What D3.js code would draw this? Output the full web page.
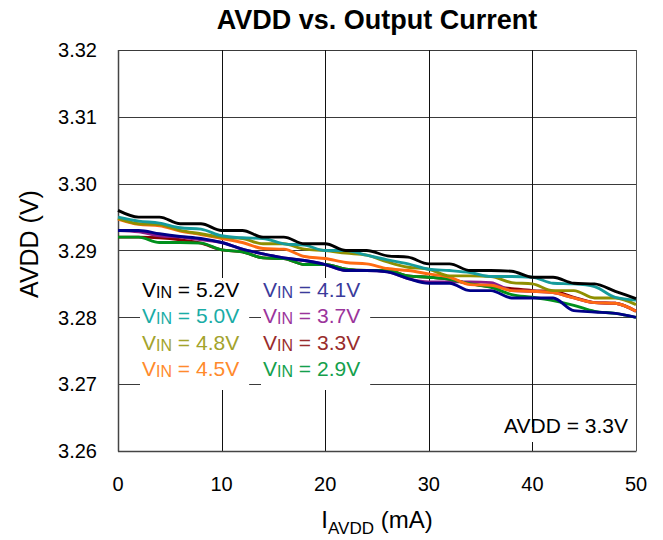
<!DOCTYPE html>
<html>
<head>
<meta charset="utf-8">
<script src="https://cdn.jsdelivr.net/npm/d3@7"></script>
<style>
  body { margin: 0; background: #fff; }
  svg { display: block; }
  text { font-family: "Liberation Sans", Arial, Helvetica, sans-serif; }
</style>
</head>
<body>
<svg id="chart" width="663" height="540"></svg>
<script>
// output current, mA
const current = [0, 2, 4, 6, 8, 10, 12, 14, 16, 18, 20, 22, 24, 26, 28, 30, 32, 34, 36, 38, 40, 42, 44, 46, 48, 50];

// AVDD (V) for each input voltage
const vin52 = [3.2960, 3.2950, 3.2950, 3.2940, 3.2940, 3.2930, 3.2930, 3.2920, 3.2920, 3.2910, 3.2910, 3.2900, 3.2900, 3.2892, 3.2890, 3.2880, 3.2880, 3.2870, 3.2870, 3.2869, 3.2860, 3.2860, 3.2851, 3.2850, 3.2839, 3.2828];
const vin50 = [3.2950, 3.2944, 3.2941, 3.2934, 3.2932, 3.2922, 3.2919, 3.2918, 3.2910, 3.2908, 3.2900, 3.2900, 3.2893, 3.2886, 3.2880, 3.2872, 3.2870, 3.2867, 3.2861, 3.2861, 3.2860, 3.2851, 3.2850, 3.2846, 3.2830, 3.2826];
const vin48 = [3.2948, 3.2940, 3.2939, 3.2930, 3.2925, 3.2920, 3.2918, 3.2910, 3.2910, 3.2902, 3.2900, 3.2896, 3.2893, 3.2883, 3.2875, 3.2872, 3.2862, 3.2862, 3.2861, 3.2852, 3.2850, 3.2840, 3.2840, 3.2829, 3.2829, 3.2819];
const vin45 = [3.2947, 3.2939, 3.2937, 3.2929, 3.2924, 3.2918, 3.2912, 3.2903, 3.2902, 3.2891, 3.2888, 3.2882, 3.2880, 3.2873, 3.2870, 3.2865, 3.2860, 3.2849, 3.2848, 3.2840, 3.2839, 3.2837, 3.2829, 3.2822, 3.2821, 3.2809];
const vin41 = [3.2930, 3.2930, 3.2925, 3.2921, 3.2918, 3.2912, 3.2902, 3.2895, 3.2889, 3.2885, 3.2879, 3.2870, 3.2870, 3.2868, 3.2858, 3.2851, 3.2851, 3.2840, 3.2840, 3.2829, 3.2829, 3.2829, 3.2810, 3.2808, 3.2806, 3.2800];
const vin37 = [3.2930, 3.2928, 3.2922, 3.2920, 3.2916, 3.2912, 3.2902, 3.2895, 3.2889, 3.2885, 3.2879, 3.2870, 3.2870, 3.2868, 3.2858, 3.2853, 3.2853, 3.2853, 3.2852, 3.2840, 3.2839, 3.2837, 3.2829, 3.2822, 3.2821, 3.2809];
const vin33 = [3.2920, 3.2920, 3.2919, 3.2916, 3.2911, 3.2901, 3.2898, 3.2889, 3.2888, 3.2879, 3.2879, 3.2872, 3.2870, 3.2870, 3.2862, 3.2860, 3.2857, 3.2850, 3.2846, 3.2843, 3.2840, 3.2839, 3.2830, 3.2822, 3.2821, 3.2809];
const vin29 = [3.2920, 3.2920, 3.2912, 3.2912, 3.2911, 3.2901, 3.2898, 3.2889, 3.2888, 3.2879, 3.2879, 3.2872, 3.2870, 3.2870, 3.2862, 3.2860, 3.2857, 3.2850, 3.2845, 3.2834, 3.2830, 3.2825, 3.2818, 3.2809, 3.2806, 3.2800];

const xTicks = [0, 10, 20, 30, 40, 50];
const yTicks = [3.26, 3.27, 3.28, 3.29, 3.30, 3.31, 3.32];

// legend order (two columns); lines drawn in drawOrder, bottom first
const series = [
    { label: "5.2V", values: vin52, line: "#000000", text: "#000000" },
    { label: "5.0V", values: vin50, line: "#169b9b", text: "#1aaca6" },
    { label: "4.8V", values: vin48, line: "#8f8f00", text: "#a3a32c" },
    { label: "4.5V", values: vin45, line: "#ff6a12", text: "#ff8a2c" },
    { label: "4.1V", values: vin41, line: "#000088", text: "#3b3b9b" },
    { label: "3.7V", values: vin37, line: "#8a1a8a", text: "#9b349b" },
    { label: "3.3V", values: vin33, line: "#880000", text: "#992c2c" },
    { label: "2.9V", values: vin29, line: "#00901c", text: "#14a04c" }
];
const drawOrder = ["3.3V", "3.7V", "2.9V", "4.1V", "4.5V", "4.8V", "5.0V", "5.2V"];

const svg = d3.select("#chart");
const plotL = 118, plotR = 636, plotT = 50, plotB = 451;

const x = d3.scaleLinear().domain([0, 50]).range([plotL, plotR]);
const y = d3.scaleLinear().domain([3.26, 3.32]).range([plotB, plotT]);

// grid
const grid = svg.append("g");
grid.selectAll("line.h")
    .data(yTicks)
    .join("line")
    .attr("class", "h")
    .attr("x1", plotL).attr("x2", plotR)
    .attr("y1", d => Math.round(y(d)) + 0.5).attr("y2", d => Math.round(y(d)) + 0.5)
    .attr("stroke", "#3a3a3a").attr("stroke-width", 1);
grid.selectAll("line.v")
    .data(xTicks)
    .join("line")
    .attr("class", "v")
    .attr("x1", d => Math.round(x(d)) + 0.5).attr("x2", d => Math.round(x(d)) + 0.5)
    .attr("y1", plotT).attr("y2", plotB)
    .attr("stroke", d => (d === 0 || d === 50) ? "#555" : "#111").attr("stroke-width", 1);

// axis frame
svg.append("line")
    .attr("x1", plotL + 0.5).attr("x2", plotL + 0.5).attr("y1", plotT).attr("y2", plotB + 0.5)
    .attr("stroke", "#444").attr("stroke-width", 1.5);
svg.append("line")
    .attr("x1", plotL).attr("x2", plotR + 0.5).attr("y1", plotB + 0.5).attr("y2", plotB + 0.5)
    .attr("stroke", "#444").attr("stroke-width", 1.5);

// tick labels
svg.append("g").selectAll("text")
    .data(yTicks)
    .join("text")
    .attr("x", 97).attr("y", d => y(d))
    .attr("dy", "0.36em")
    .attr("text-anchor", "end")
    .attr("font-size", 20)
    .text(d => d3.format(".2f")(d));
svg.append("g").selectAll("text")
    .data(xTicks)
    .join("text")
    .attr("x", d => x(d)).attr("y", plotB + 40)
    .attr("text-anchor", "middle")
    .attr("font-size", 20)
    .text(d => d);

// data lines
const line = d3.line()
    .x((d, i) => x(current[i]))
    .y(d => y(d))
    .curve(d3.curveMonotoneX);

svg.append("g").selectAll("path")
    .data(drawOrder.map(l => series.find(s => s.label === l)))
    .join("path")
    .attr("d", d => line(d.values))
    .attr("fill", "none")
    .attr("stroke", d => d.line)
    .attr("stroke-width", 2.9)
    .attr("stroke-linejoin", "round");

// legend
const legend = svg.append("g");
const colX = [142, 263];
const rowY = [297, 323, 350, 376];
series.forEach((s, i) => {
    const col = Math.floor(i / 4), row = i % 4;
    const t = legend.append("text")
        .attr("x", colX[col]).attr("y", rowY[row])
        .attr("font-size", 21)
        .attr("fill", s.text);
    t.append("tspan").text("V");
    t.append("tspan").attr("font-size", 16).attr("dy", 1).text("IN");
    t.append("tspan").attr("dy", -1).text(" = " + s.label);
});
// white boxes behind each legend column
[0, 1].forEach(col => {
    const texts = legend.selectAll("text").filter((d, i) => Math.floor(i / 4) === col).nodes();
    const w = d3.max(texts, n => n.getBBox().width);
    legend.insert("rect", "text")
        .attr("x", colX[col] - 2).attr("y", 278)
        .attr("width", w + 12).attr("height", 112)
        .attr("fill", "#fff");
});

// note
const note = svg.append("text")
    .attr("x", 628).attr("y", 433)
    .attr("text-anchor", "end")
    .attr("font-size", 21)
    .text("AVDD = 3.3V");
const nb = note.node().getBBox();
svg.append("rect")
    .attr("x", nb.x - 2).attr("y", 427)
    .attr("width", nb.width + 4).attr("height", 15)
    .attr("fill", "#fff");
note.raise();

// title
svg.append("text")
    .attr("x", 377).attr("y", 29)
    .attr("text-anchor", "middle")
    .attr("font-size", 27)
    .attr("font-weight", "bold")
    .text("AVDD vs. Output Current");

// axis titles
svg.append("text")
    .attr("transform", "translate(38,244) rotate(-90)")
    .attr("text-anchor", "middle")
    .attr("font-size", 25)
    .text("AVDD (V)");

const xt = svg.append("text")
    .attr("x", 377).attr("y", 528)
    .attr("text-anchor", "middle")
    .attr("font-size", 24);
xt.append("tspan").text("I");
xt.append("tspan").attr("font-size", 17).attr("dy", 6).text("AVDD");
xt.append("tspan").attr("dy", -6).text(" (mA)");
</script>
</body>
</html>
